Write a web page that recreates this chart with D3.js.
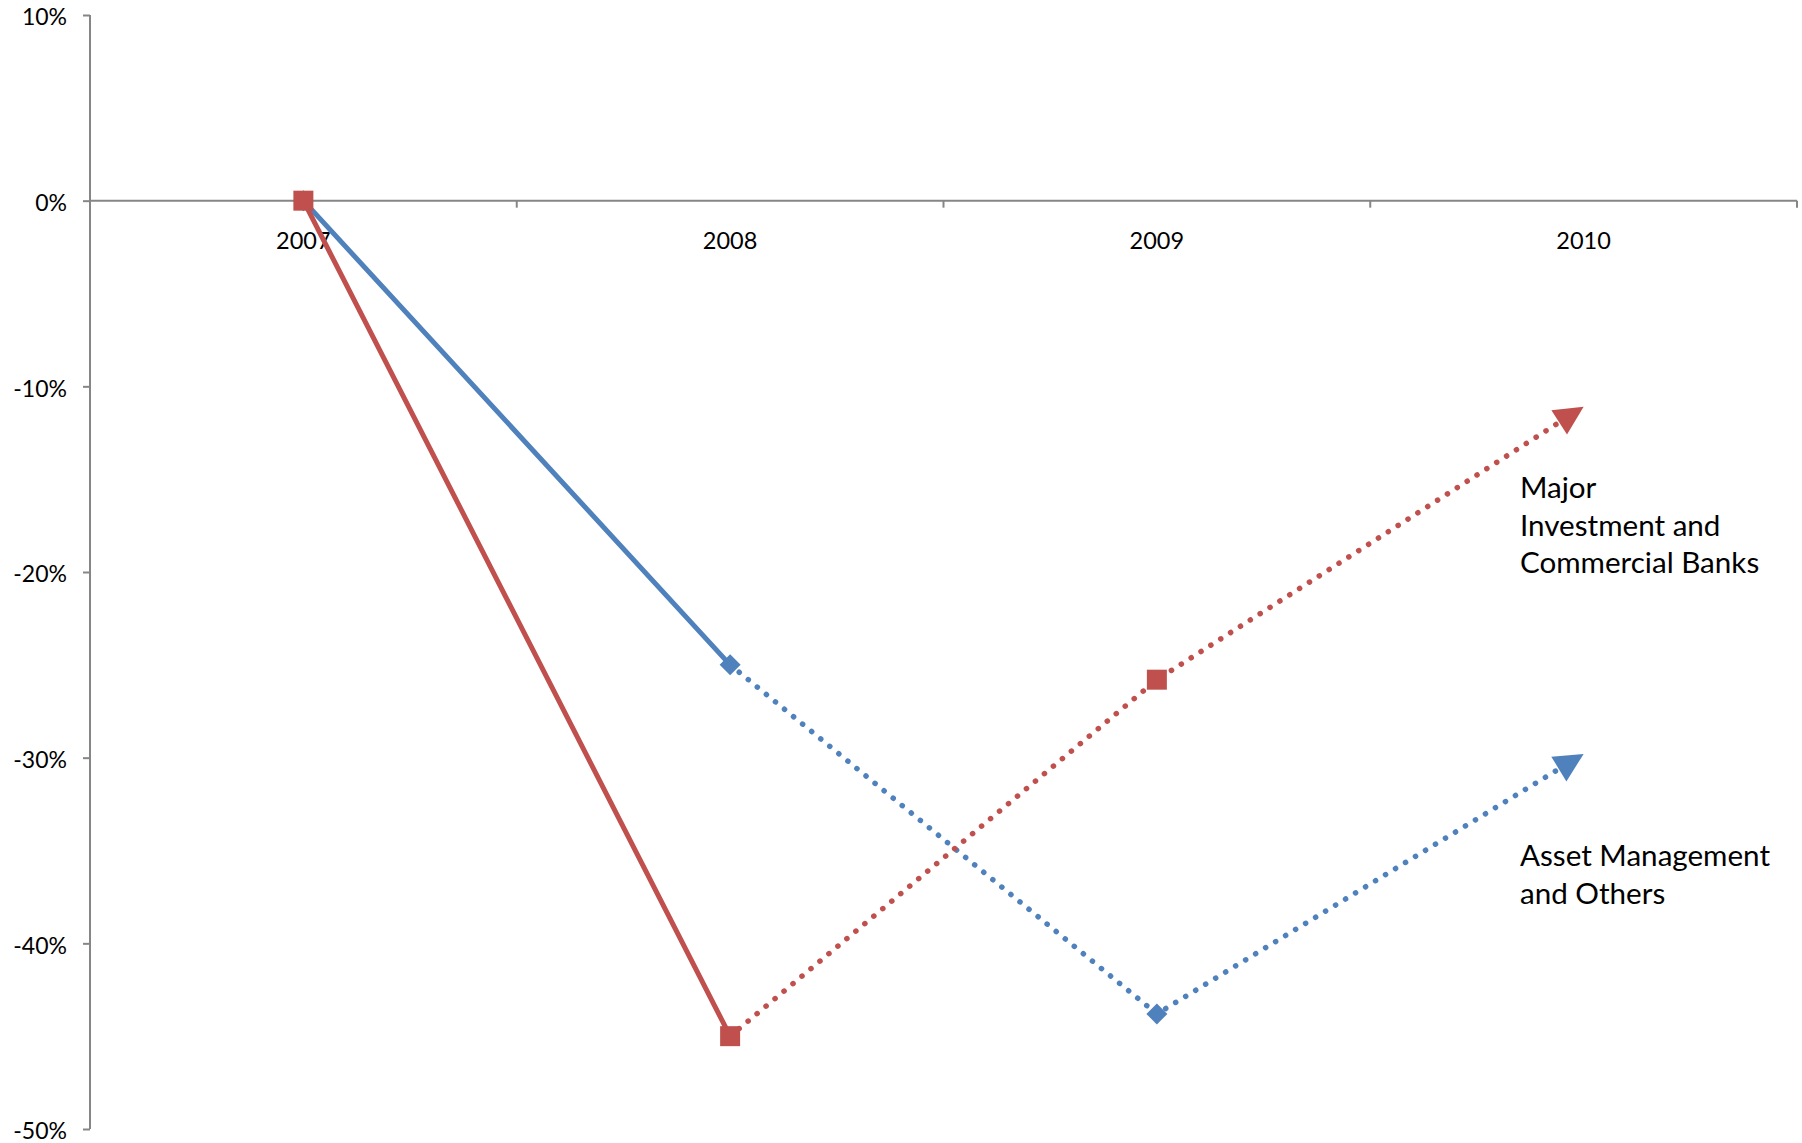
<!DOCTYPE html>
<html>
<head>
<meta charset="utf-8">
<script src="https://cdn.jsdelivr.net/npm/d3@7"></script>
<style>
  html, body { margin: 0; padding: 0; background: #fff; }
  svg { display: block; }
  text { font-family: Lato, "Open Sans", sans-serif; fill: #000; }
</style>
</head>
<body>
<svg id="chart" width="1802" height="1143"></svg>
<script>
// Years along the horizontal axis
const years = ["2007", "2008", "2009", "2010"];

// Change in value since 2007 (fraction); the 2010 point is the projected arrow tip
const assetMgmt = [0, -0.25, -0.438, -0.298];
const majorBanks = [0, -0.45, -0.258, -0.111];

// Value-axis tick labels
const yTicks = [0.1, 0, -0.1, -0.2, -0.3, -0.4, -0.5];

// Series captions placed beside the arrows
const assetLabel = ["Asset Management", "and Others"];
const bankLabel = ["Major", "Investment and", "Commercial Banks"];

const BLUE = "#4F81BD";
const RED = "#C0504D";
const AXIS = "#868686";

const svg = d3.select("#chart");

const x = d3.scaleBand().domain(years).range([90, 1797]).padding(0);
const cx = d => x(d) + x.bandwidth() / 2;
const y = d3.scaleLinear().domain([-0.5, 0.1]).range([1129, 15]);

// Percent labels with a plain hyphen for negatives
const pct = d => Math.round(d * 100) + "%";

// Value axis
const yAxis = d3.axisLeft(y)
  .tickValues(yTicks)
  .tickFormat(pct)
  .tickSize(7)
  .tickPadding(16);
const gy = svg.append("g").attr("transform", "translate(90,0)").call(yAxis);
gy.select(".domain").attr("stroke", AXIS).attr("stroke-width", 2).attr("d", "M0,15V1129");
gy.selectAll(".tick line").attr("stroke", AXIS).attr("stroke-width", 2);
gy.selectAll(".tick text")
  .attr("fill", "#000")
  .attr("font-family", null)
  .attr("font-size", null)
  .style("font-size", "23px")
  .attr("dy", "0.42em");

// Category axis sitting on the 0% line, ticks between categories
const gx = svg.append("g").attr("transform", `translate(0,${y(0)})`);
gx.append("line")
  .attr("x1", 90).attr("x2", 1797)
  .attr("stroke", AXIS).attr("stroke-width", 2);
gx.selectAll("line.tk")
  .data(years)
  .join("line")
  .attr("class", "tk")
  .attr("x1", d => x(d) + x.bandwidth())
  .attr("x2", d => x(d) + x.bandwidth())
  .attr("y1", 0).attr("y2", 7)
  .attr("stroke", AXIS).attr("stroke-width", 2);
gx.selectAll("text")
  .data(years)
  .join("text")
  .attr("x", d => cx(d))
  .attr("y", 48)
  .attr("text-anchor", "middle")
  .style("font-size", "23.5px")
  .text(d => d);

const ARROW_LEN = 29, ARROW_W = 29;

function drawSeries(values, color, markerType) {
  const pts = years.map((yr, i) => [cx(yr), y(values[i])]);
  const g = svg.append("g");
  const line = d3.line();

  // Solid actual change 2007 -> 2008
  g.append("path")
    .attr("d", line(pts.slice(0, 2)))
    .attr("fill", "none")
    .attr("stroke", color)
    .attr("stroke-width", 5)
    .attr("stroke-linecap", "round");

  // Dotted projection 2008 -> 2010, stopping at the arrowhead base
  const [p2, p3] = [pts[2], pts[3]];
  const dx = p3[0] - p2[0], dy = p3[1] - p2[1];
  const len = Math.hypot(dx, dy);
  const ux = dx / len, uy = dy / len;
  const base = [p3[0] - ux * ARROW_LEN, p3[1] - uy * ARROW_LEN];
  g.append("path")
    .attr("d", line([pts[1], pts[2], base]))
    .attr("fill", "none")
    .attr("stroke", color)
    .attr("stroke-width", 5.5)
    .attr("stroke-linecap", "round")
    .attr("stroke-dasharray", "0.1 11.6");

  // Arrowhead at the 2010 point
  const nx = -uy, ny = ux;
  g.append("path")
    .attr("d", d3.line()([
      p3,
      [base[0] + nx * ARROW_W / 2, base[1] + ny * ARROW_W / 2],
      [base[0] - nx * ARROW_W / 2, base[1] - ny * ARROW_W / 2]
    ]) + "Z")
    .attr("fill", color);

  // Markers for 2007-2009
  const m = g.selectAll("path.mk")
    .data(pts.slice(0, 3))
    .join("path")
    .attr("class", "mk")
    .attr("fill", color);
  if (markerType === "square") {
    m.attr("d", d => `M${d[0] - 10},${d[1] - 10}h20v20h-20Z`);
  } else {
    m.attr("d", d => `M${d[0]},${d[1] - 10.5}l10.5,10.5l-10.5,10.5l-10.5,-10.5Z`);
  }
}

drawSeries(assetMgmt, BLUE, "diamond");
drawSeries(majorBanks, RED, "square");

// Series captions
function caption(lines, x0, y0) {
  const t = svg.append("text")
    .attr("x", x0)
    .attr("y", y0)
    .style("font-size", "29.6px");
  t.selectAll("tspan")
    .data(lines)
    .join("tspan")
    .attr("x", x0)
    .attr("dy", (d, i) => i === 0 ? 0 : 37.5)
    .text(d => d);
}
caption(bankLabel, 1520, 498);
caption(assetLabel, 1520, 866);
</script>
</body>
</html>
